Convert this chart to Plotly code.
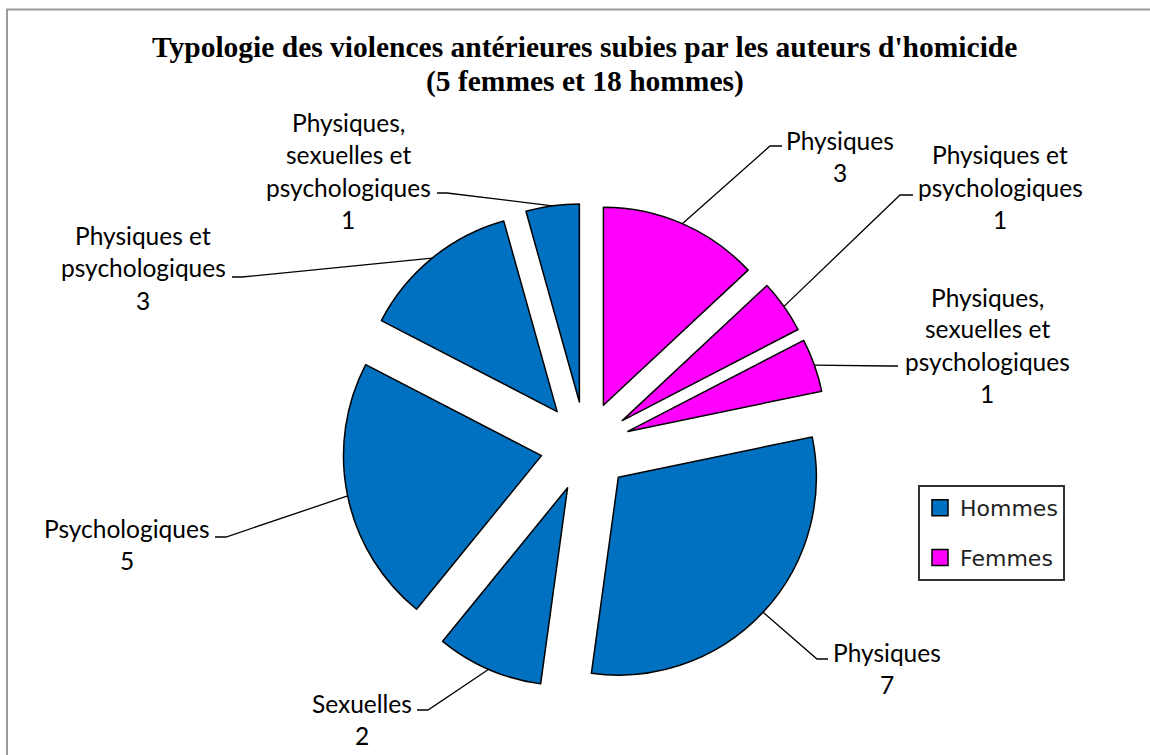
import math
import plotly.graph_objects as go

W, H = 1150, 755

# Data: counts of prior violence types, by sex of the perpetrator
sexes = ["Femmes", "Femmes", "Femmes", "Hommes", "Hommes", "Hommes", "Hommes", "Hommes"]
categories = [
    "Physiques",
    "Physiques et psychologiques",
    "Physiques, sexuelles et psychologiques",
    "Physiques",
    "Sexuelles",
    "Psychologiques",
    "Physiques et psychologiques",
    "Physiques, sexuelles et psychologiques",
]
counts = [3, 1, 1, 7, 2, 5, 3, 1]

legend_names = ["Hommes", "Femmes"]
sex_colors = {"Hommes": "#0070C0", "Femmes": "#FF00FF"}

title_lines = [
    "Typologie des violences antérieures subies par les auteurs d'homicide",
    "(5 femmes et 18 hommes)",
]

# how each category label is broken over lines
wrapped = {
    "Physiques": ["Physiques"],
    "Sexuelles": ["Sexuelles"],
    "Psychologiques": ["Psychologiques"],
    "Physiques et psychologiques": ["Physiques et", "psychologiques"],
    "Physiques, sexuelles et psychologiques": ["Physiques,", "sexuelles et", "psychologiques"],
}

# ---- layout constants (pixels) ----
CX, CY = 585.5, 446.5      # pie centre
R = 198.0                  # pie radius
PULL = 0.227               # explosion (fraction of radius)
LABEL_FONT = dict(family="Lato", size=24.5, color="black")
LINE_STEP = 32.0
TITLE_Y0 = 47.0
TITLE_STEP = 34.0

# per slice: label centre x, first-line y, elbow x, elbow y, leader end x
label_layout = [
    (840, 140, 770, 146, 782),
    (1000, 155, 900, 195, 913),
    (987, 297, 888, 366, 898),
    (887, 652, 817, 659, 828),
    (362, 703, 428, 710, 417),
    (127, 528, 226, 537, 215),
    (143, 236, 242, 277, 232),
    (348, 123, 447, 193, 437),
]


def px(x):
    return x / W


def py(y):
    return 1 - y / H


half = R * (1 + PULL)
fig = go.Figure()

fig.add_trace(go.Pie(
    labels=[f"{s} – {c}" for s, c in zip(sexes, categories)],
    values=counts,
    sort=False,
    direction="clockwise",
    rotation=0,
    pull=[PULL] * len(counts),
    marker=dict(colors=[sex_colors[s] for s in sexes],
                line=dict(color="black", width=1.5)),
    textinfo="none",
    hoverinfo="label+value",
    showlegend=False,
    domain=dict(x=[px(CX - half), px(CX + half)],
                y=[py(CY + half), py(CY - half)]),
))

# legend entries for the two groups
for name in legend_names:
    fig.add_trace(go.Scatter(
        x=[None], y=[None], mode="markers", name=name,
        legendgroup=name,
        marker=dict(symbol="square", size=16, color=sex_colors[name],
                    line=dict(color="black", width=1.5)),
    ))

annotations = []
shapes = []

# title, one annotation per line
for j, t in enumerate(title_lines):
    annotations.append(dict(
        x=px(585), y=py(TITLE_Y0 + TITLE_STEP * j), xref="paper", yref="paper",
        text=f"<b>{t}</b>", showarrow=False, xanchor="center", yanchor="middle",
        font=dict(family="Liberation Serif", size=29.5, color="black"),
    ))

# data labels with leader lines, anchored on the middle of each slice's arc
total = sum(counts)
cum = 0
for i, (c, cat) in enumerate(zip(counts, categories)):
    mid = 2 * math.pi * (cum + c / 2) / total
    cum += c
    ux, uy = math.sin(mid), -math.cos(mid)
    ax = CX + R * (1 + PULL) * ux
    ay = CY + R * (1 + PULL) * uy
    lx, ly0, ex, ey, endx = label_layout[i]
    shapes.append(dict(
        type="path", xref="paper", yref="paper",
        path=f"M {px(ax)},{py(ay)} L {px(ex)},{py(ey)} L {px(endx)},{py(ey)}",
        line=dict(color="black", width=1.3),
    ))
    lines = wrapped[cat] + [str(c)]
    for j, t in enumerate(lines):
        annotations.append(dict(
            x=px(lx), y=py(ly0 + LINE_STEP * j), xref="paper", yref="paper",
            text=t, showarrow=False, xanchor="center", yanchor="middle",
            font=LABEL_FONT,
        ))

# outer chart frame
shapes.append(dict(
    type="rect", xref="paper", yref="paper",
    x0=px(7), x1=px(W + 10), y0=py(H + 10), y1=py(9.5),
    line=dict(color="#999999", width=2), fillcolor="rgba(0,0,0,0)",
))

fig.update_layout(
    width=W, height=H,
    margin=dict(l=0, r=0, t=0, b=0),
    paper_bgcolor="white", plot_bgcolor="white",
    xaxis=dict(visible=False), yaxis=dict(visible=False),
    showlegend=True,
    legend=dict(
        x=px(918), y=py(485), xanchor="left", yanchor="top",
        bordercolor="#333333", borderwidth=2, bgcolor="white",
        font=dict(family="DejaVu Sans", size=22, color="#222222"),
        tracegroupgap=18, itemwidth=30,
    ),
    annotations=annotations,
    shapes=shapes,
)

fig.write_html("out.html")
